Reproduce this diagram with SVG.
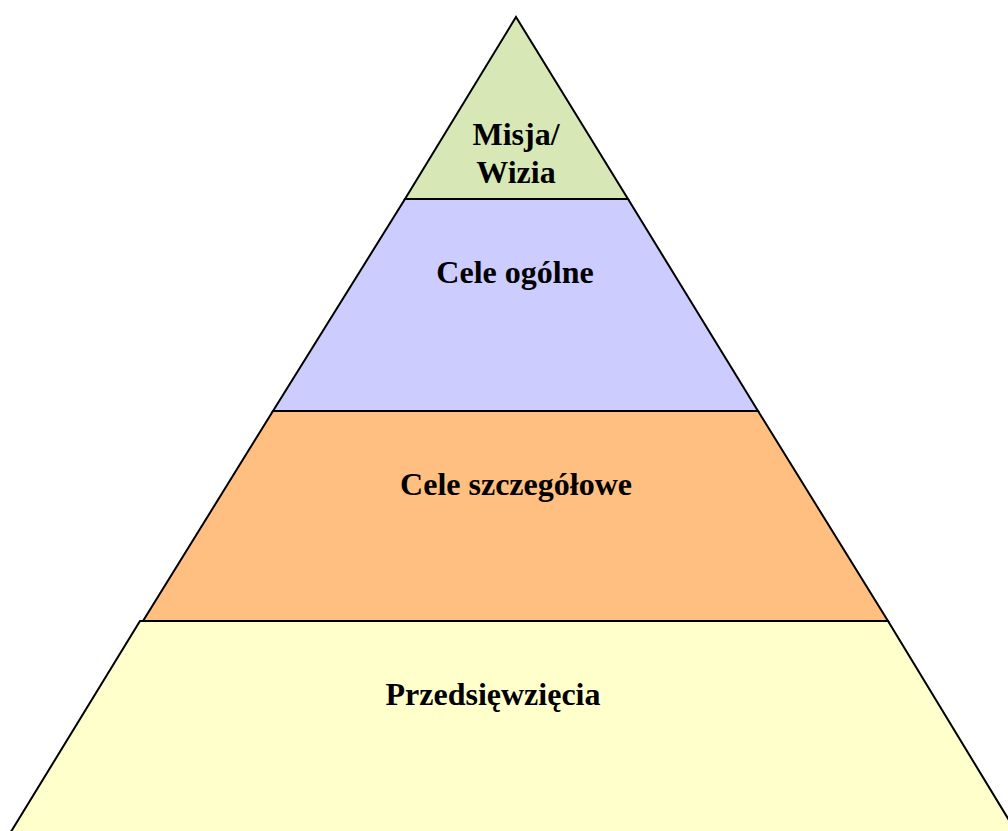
<svg xmlns="http://www.w3.org/2000/svg" width="1008" height="831" viewBox="0 0 1008 831">
<style>
.lvl{stroke:#000;stroke-width:2;stroke-linejoin:miter}
.t{font-family:"Liberation Serif","Times New Roman",serif;font-weight:bold;font-size:32px;fill:#000;text-anchor:middle}
</style>
<rect width="1008" height="831" fill="#fff"/>
<g id="level-yellow"><polygon class="lvl" fill="#FFFFCC" points="140,621 888,621 1018,835 9,835"/><text class="t" x="493" y="705">Przedsięwzięcia</text></g>
<g id="level-orange"><polygon class="lvl" fill="#FFBF80" points="273,411 758,411 888,621 143,621"/><text class="t" x="516" y="495">Cele szczegółowe</text></g>
<g id="level-blue"><polygon class="lvl" fill="#CCCCFF" points="405,199 628,199 758,411 273,411"/><text class="t" x="515" y="283">Cele ogólne</text></g>
<g id="level-green"><polygon class="lvl" fill="#D7E8B6" points="516,17 628,199 405,199"/><text class="t" x="516" y="145">Misja/</text><text class="t" x="516" y="183">Wizia</text></g>
</svg>
